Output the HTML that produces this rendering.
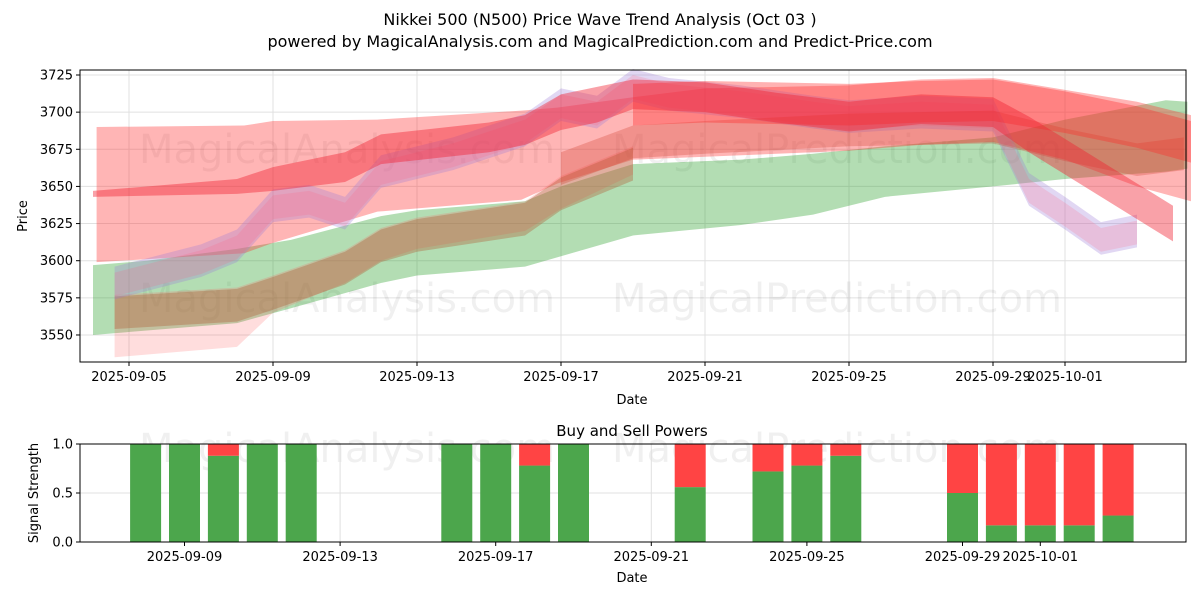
<!DOCTYPE html>
<html><head><meta charset="utf-8"><style>
body{margin:0;background:#fff;font-family:"Liberation Sans","DejaVu Sans",sans-serif}
svg text{font-family:"DejaVu Sans","Liberation Sans",sans-serif}
</style></head><body>
<svg id="c" width="1200" height="600" xmlns="http://www.w3.org/2000/svg"></svg>
<script>
// ---- data ----
const topTickDays=[0,4,8,12,16,20,24,26];
const topTickLabels=["2025-09-05","2025-09-09","2025-09-13","2025-09-17","2025-09-21","2025-09-25","2025-09-29","2025-10-01"];
const priceTicks=[3550,3575,3600,3625,3650,3675,3700,3725];
const pDays=[-0.9,3.2,4,6.9,10.9,11.9,14,16,20,22,24,26,28,29.5];
const pHi=[3690,3691,3694,3695,3701,3703,3710,3716,3718,3722,3723,3715,3707,3698];
const pLo=[3599,3605,3612,3633,3641,3652,3668,3670,3674,3678,3680,3668,3650,3640];
const gDays=[-1,0.5,3,4.5,7,8,11,12,14,17,19,21,24,26,28.8,29.4];
const gHi=[3597,3600,3608,3614,3630,3634,3640,3650,3665,3668,3672,3677,3683,3695,3708,3707];
const gLo=[3550,3553,3558,3568,3585,3590,3596,3603,3617,3624,3631,3643,3650,3655,3660,3662];
const bDays=[-0.4,3,4,6,7,8,11,12,14];
const bCenter=[3565,3570,3578,3595,3610,3617,3628,3645,3665];
const bLo=[3535,3542,3565,3585,3600,3608,3620,3635,3658];
const uDays=[-0.4,2,3,4,5,6,7,9,11,12,13,14,15,17,19,20,22,24,25,26,27,28];
const uCenter=[3585,3600,3610,3637,3640,3632,3660,3672,3688,3705,3700,3718,3712,3707,3700,3697,3700,3698,3648,3632,3615,3620];
const rDays=[-1,3,4,6,7,10,11,12,13,14,16,18,20,22,24,25,26,28,29];
const rCenter=[3645,3650,3655,3663,3675,3683,3688,3700,3705,3712,3710,3703,3697,3702,3700,3685,3670,3640,3625];
const rHalf=[2,5,8,10,10,10,10,12,12,10,10,10,10,10,10,12,12,12,12];
const r2Days=[14,16,20,22,24,26,28,29.5];
const r2Center=[3705,3707,3705,3707,3708,3700,3690,3680];
const r3Days=[12,14,16,20,24,26,28,29.3];
const r3Center=[3662,3680,3683,3688,3690,3678,3668,3672];
const botTickDays=[0,4,8,12,16,20,22];
const botTickLabels=["2025-09-09","2025-09-13","2025-09-17","2025-09-21","2025-09-25","2025-09-29","2025-10-01"];
const barDays=[-1,0,1,2,3,7,8,9,10,13,15,16,17,20,21,22,23,24];
const buyVals=[1,1,0.88,1,1,1,1,0.78,1,0.56,0.72,0.78,0.88,0.5,0.17,0.17,0.17,0.27];
const sigTicks=[0,0.5,1];

const T={l:80,r:1186,t:70,b:362};
const xT=d=>129+36*d;
const yT=p=>75+(3725-p)/25*37.14;
const B={l:80,r:1186,t:444,b:542};
const xB=d=>184.5+38.9*d;
const yB=v=>542-98*v;

const svg=document.getElementById('c');
const NS="http://www.w3.org/2000/svg";
function mk(tag,attrs,parent){const e=document.createElementNS(NS,tag);for(const k in attrs)e.setAttribute(k,attrs[k]);(parent||svg).appendChild(e);return e;}
function txt(s,x,y,attrs){const e=mk('text',Object.assign({x:x,y:y,'font-size':13,fill:'#000'},attrs||{}));e.textContent=s;return e;}

let e=txt("Nikkei 500 (N500) Price Wave Trend Analysis (Oct 03 )",600,25,{'text-anchor':'middle','font-size':16});

e=txt("powered by MagicalAnalysis.com and MagicalPrediction.com and Predict-Price.com",600,47,{'text-anchor':'middle','font-size':16});


const gt=mk('g',{});
topTickDays.forEach((d,i)=>{mk('line',{x1:xT(d),x2:xT(d),y1:T.t,y2:T.b,stroke:'#e0e0e0'},gt);
 mk('line',{x1:xT(d),x2:xT(d),y1:T.b,y2:T.b+4,stroke:'#000'});
 const t=txt(topTickLabels[i],xT(d),T.b+19,{'text-anchor':'middle'});});
priceTicks.forEach(p=>{mk('line',{x1:T.l,x2:T.r,y1:yT(p),y2:yT(p),stroke:'#e0e0e0'},gt);
 mk('line',{x1:T.l-4,x2:T.l,y1:yT(p),y2:yT(p),stroke:'#000'});
 const t=txt(String(p),T.l-7,yT(p)+4.5,{'text-anchor':'end'});});

[["MagicalAnalysis.com",347,163],["MagicalPrediction.com",837,163],["MagicalAnalysis.com",347,312],["MagicalPrediction.com",837,312],["MagicalAnalysis.com",347,462],["MagicalPrediction.com",837,462]].forEach(w=>{
 const t=txt(w[0],w[1],w[2],{'text-anchor':'middle','font-size':40,fill:'#000','fill-opacity':0.06});
 });

function band(days,hi,lo,fill,op,name){
 const pts=days.map((d,i)=>xT(d)+','+yT(hi[i])).concat(days.map((d,i)=>xT(d)+','+yT(lo[i])).reverse());
 const p=mk('polygon',{points:pts.join(' '),fill:fill,'fill-opacity':op});
 }
const cg=(c,h)=>c.map((v,i)=>v+(Array.isArray(h)?h[i]:h));
band(gDays,gHi,gLo,'#2ca02c',0.36,'green-band');
band(pDays,pHi,pLo,'#ff3333',0.36,'pink-band');
band(bDays,cg(bCenter,12),bLo,'#ff5555',0.2,'low-pink-band');
band(bDays,cg(bCenter,11),cg(bCenter,-11),'#b0603a',0.38,'olive-band');
band(uDays,cg(uCenter,11),cg(uCenter,-11),'#9a7ad8',0.3,'purple-band');
band(uDays,cg(uCenter,7),cg(uCenter,-9),'#ff6080',0.2,'pink-purple-band');
band(r3Days,cg(r3Center,11),cg(r3Center,-11),'#d04030',0.3,'red-lower-band');
band(r2Days,cg(r2Center,14),cg(r2Center,-14),'#ff2a2a',0.36,'red-upper-band');
band(rDays,cg(rCenter,rHalf),cg(rCenter,rHalf.map(v=>-v)),'#f02030',0.42,'red-main-band');

let f=mk('rect',{x:T.l,y:T.t,width:T.r-T.l,height:T.b-T.t,fill:'none',stroke:'#000'});

e=txt("Date",632,404,{'text-anchor':'middle'});
e=txt("Price",27,216,{'text-anchor':'middle',transform:'rotate(-90 27 216)'});

e=txt("Buy and Sell Powers",632,436,{'text-anchor':'middle','font-size':15});
botTickDays.forEach((d,i)=>{mk('line',{x1:xB(d),x2:xB(d),y1:B.t,y2:B.b,stroke:'#e0e0e0'});
 mk('line',{x1:xB(d),x2:xB(d),y1:B.b,y2:B.b+4,stroke:'#000'});
 const t=txt(botTickLabels[i],xB(d),B.b+19,{'text-anchor':'middle'});});
sigTicks.forEach(v=>{mk('line',{x1:B.l,x2:B.r,y1:yB(v),y2:yB(v),stroke:'#e0e0e0'});
 mk('line',{x1:B.l-4,x2:B.l,y1:yB(v),y2:yB(v),stroke:'#000'});
 const t=txt(v.toFixed(1),B.l-7,yB(v)+4.5,{'text-anchor':'end'});});
barDays.forEach((d,i)=>{const w=31,x=xB(d)-w/2;
 const g=mk('rect',{x:x,y:yB(buyVals[i]),width:w,height:yB(0)-yB(buyVals[i]),fill:'#4ca64c'});
 
 const r=mk('rect',{x:x,y:yB(1),width:w,height:yB(buyVals[i])-yB(1),fill:'#ff4444'});
 });
f=mk('rect',{x:B.l,y:B.t,width:B.r-B.l,height:B.b-B.t,fill:'none',stroke:'#000'});

e=txt("Date",632,582,{'text-anchor':'middle'});
e=txt("Signal Strength",38,493,{'text-anchor':'middle',transform:'rotate(-90 38 493)'});
</script>
</body></html>
